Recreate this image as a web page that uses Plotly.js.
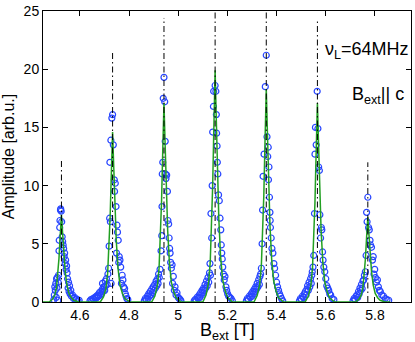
<!DOCTYPE html>
<html>
<head>
<meta charset="utf-8">
<script src="https://cdn.plot.ly/plotly-3.0.1.min.js"></script>
<style>
  html, body { margin: 0; padding: 0; background: #fff; }
  #chart { width: 415px; height: 342px; }
</style>
</head>
<body>
<div id="chart"></div>
<script>
// ── Data ──────────────────────────────────────────────────────────────────────
// stick positions (T) and heights of the dash-dot lines
const peakB    = [4.525, 4.733, 4.942, 5.150, 5.358, 5.566, 5.771];
const stickTop = [12.3, 21.4, 24.4, 25, 25, 24.2, 12.0];

// measured points per satellite: [B (T), amplitude]
const pk1 = [[4.494,0.2],[4.496,0.6],[4.498,1.3],[4.500,1.0],[4.502,1.6],[4.504,0.4],[4.505,2.0],[4.507,1.2],
  [4.508,2.1],[4.510,0.15],[4.512,1.7],[4.513,2.3],[4.515,4.4],[4.516,5.3],[4.518,6.4],[4.519,7.0],[4.521,7.9],
  [4.522,8.0],[4.524,7.8],[4.526,6.9],[4.528,5.6],[4.530,5.2],[4.532,4.9],[4.534,4.6],[4.536,3.9],[4.538,4.2],
  [4.540,3.3],[4.542,3.6],[4.544,2.8],[4.546,3.1],[4.548,2.5],[4.550,2.0],[4.552,1.2],[4.554,1.7],[4.556,0.9],
  [4.558,1.4],[4.560,0.7],[4.563,1.0],[4.566,0.5],[4.570,0.6],[4.574,0.3],[4.578,0.4],[4.582,0.2],[4.587,0.25],
  [4.592,0.1],[4.597,0.15]];
const pk2 = [[4.641,0.1],[4.645,0.2],[4.649,0.1],[4.653,0.3],[4.657,0.2],[4.661,0.4],[4.664,0.3],[4.667,0.5],
  [4.670,0.4],[4.673,0.6],[4.676,0.5],[4.679,0.8],[4.682,0.6],[4.685,0.9],[4.688,0.7],[4.691,1.1],[4.692,1.6],
  [4.695,0.9],[4.697,1.3],[4.699,1.3],[4.701,1.0],[4.703,1.8],[4.705,1.4],[4.708,2.0],[4.711,1.5],[4.714,2.4],
  [4.717,2.9],[4.719,4.8],[4.721,7.2],[4.722,12.0],[4.724,6.9],[4.726,13.9],[4.727,1.6],[4.730,15.8],[4.733,16.1],
  [4.736,13.5],[4.740,10.5],[4.741,9.5],[4.744,10.2],[4.747,8.2],[4.749,4.2],[4.751,6.6],[4.753,6.0],[4.756,5.3],
  [4.758,3.4],[4.760,3.9],[4.763,3.6],[4.766,3.0],[4.769,1.6],[4.772,2.3],[4.775,1.9],[4.778,1.3],[4.782,1.15],
  [4.785,0.7],[4.788,0.5],[4.791,0.3],[4.795,0.2]];
const pk3 = [[4.862,0.1],[4.866,0.3],[4.870,0.2],[4.874,0.5],[4.877,0.3],[4.880,0.7],[4.883,0.5],[4.886,0.9],
  [4.889,0.6],[4.892,1.1],[4.895,0.8],[4.898,1.3],[4.901,1.0],[4.904,1.5],[4.907,1.2],[4.910,1.8],[4.913,1.4],
  [4.916,2.0],[4.918,1.6],[4.920,2.4],[4.923,2.1],[4.926,2.8],[4.930,4.4],[4.933,5.7],[4.934,8.2],[4.935,11.0],
  [4.937,12.0],[4.939,17.5],[4.942,19.3],[4.945,17.2],[4.947,13.8],[4.948,11.0],[4.950,10.6],[4.953,10.9],
  [4.956,9.5],[4.958,7.0],[4.961,6.7],[4.963,5.5],[4.965,4.6],[4.967,4.2],[4.969,3.4],[4.972,2.9],[4.975,3.2],
  [4.977,1.6],[4.980,2.2],[4.984,1.0],[4.987,1.3],[4.991,0.6],[4.995,0.8],[5.000,0.4],[5.004,0.3],[5.008,0.2],
  [5.011,0.1]];
const pk4 = [[5.065,0.1],[5.069,0.2],[5.073,0.1],[5.077,0.4],[5.081,0.3],[5.085,0.6],[5.088,0.4],[5.091,0.8],
  [5.094,0.6],[5.097,1.0],[5.100,0.8],[5.103,1.2],[5.106,1.0],[5.109,1.5],[5.112,1.2],[5.115,1.8],[5.118,1.4],
  [5.121,2.1],[5.124,1.7],[5.127,2.5],[5.129,3.3],[5.131,2.3],[5.133,7.6],[5.136,5.5],[5.138,10.0],[5.140,14.6],
  [5.143,16.8],[5.144,18.1],[5.150,18.6],[5.153,18.1],[5.155,16.1],[5.156,14.5],[5.158,13.4],[5.159,12.0],
  [5.161,11.0],[5.164,9.2],[5.167,8.7],[5.170,7.2],[5.173,6.2],[5.175,4.9],[5.177,4.2],[5.179,3.7],[5.181,3.0],
  [5.184,2.4],[5.187,1.9],[5.190,2.2],[5.194,1.3],[5.197,1.0],[5.201,0.7],[5.205,0.5],[5.210,0.4],[5.215,0.3],
  [5.220,0.1]];
const pk5 = [[5.277,0.1],[5.281,0.3],[5.285,0.2],[5.289,0.5],[5.293,0.4],[5.297,0.7],[5.300,0.5],[5.303,0.9],
  [5.306,0.7],[5.309,1.1],[5.312,0.9],[5.315,1.3],[5.318,1.1],[5.321,1.6],[5.324,1.3],[5.327,1.9],[5.330,1.5],
  [5.332,2.2],[5.335,2.4],[5.338,2.9],[5.341,5.0],[5.343,7.9],[5.345,10.8],[5.349,12.7],[5.354,18.5],[5.358,21.2],
  [5.361,14.2],[5.364,12.5],[5.366,13.3],[5.367,10.5],[5.369,11.6],[5.371,9.0],[5.373,7.7],[5.374,7.0],
  [5.375,6.4],[5.378,5.5],[5.381,4.6],[5.385,4.2],[5.389,3.3],[5.392,2.9],[5.396,2.3],[5.400,1.7],[5.404,1.3],
  [5.408,1.0],[5.412,0.7],[5.416,0.5],[5.420,0.3],[5.425,0.1]];
const pk6 = [[5.493,0.1],[5.497,0.3],[5.501,0.2],[5.505,0.5],[5.509,0.4],[5.513,0.7],[5.517,0.9],[5.520,0.6],
  [5.523,1.1],[5.526,1.4],[5.529,1.0],[5.532,1.7],[5.535,1.3],[5.538,2.0],[5.541,1.6],[5.543,2.3],[5.545,2.6],
  [5.548,3.0],[5.551,4.0],[5.554,7.6],[5.556,12.7],[5.558,15.0],[5.561,13.5],[5.565,18.1],[5.568,14.9],
  [5.571,11.6],[5.574,11.3],[5.576,7.5],[5.579,5.5],[5.582,6.4],[5.584,6.2],[5.587,4.3],[5.589,3.6],[5.592,3.0],
  [5.596,2.6],[5.600,2.0],[5.604,1.4],[5.608,1.2],[5.612,1.0],[5.616,0.7],[5.620,0.6],[5.626,0.3],[5.633,0.2]];
const pk7 = [[5.711,0.1],[5.715,0.3],[5.719,0.2],[5.723,0.5],[5.727,0.6],[5.730,0.4],[5.733,0.9],[5.736,0.7],
  [5.739,1.2],[5.742,1.0],[5.745,1.5],[5.748,1.15],[5.751,1.8],[5.754,1.9],[5.757,2.3],[5.761,2.6],[5.764,4.0],
  [5.766,7.7],[5.768,6.9],[5.771,9.0],[5.774,6.4],[5.777,6.2],[5.780,5.3],[5.782,4.9],[5.786,4.7],[5.790,3.6],
  [5.793,3.9],[5.796,2.4],[5.799,2.8],[5.802,2.1],[5.806,1.7],[5.810,1.9],[5.814,1.3],[5.818,1.0],[5.822,0.9],
  [5.828,0.6],[5.835,0.5],[5.842,0.3],[5.849,0.2],[5.856,0.15]];

// fitted curve (green), one row per satellite
const fitB = [
  4.450,
  4.475, 4.488, 4.498, 4.505, 4.510, 4.515, 4.520, 4.525, 4.530, 4.535, 4.540, 4.547, 4.555, 4.565, 4.575, 4.595,
  4.683, 4.696, 4.706, 4.713, 4.718, 4.723, 4.728, 4.733, 4.738, 4.743, 4.748, 4.755, 4.763, 4.773, 4.783, 4.803,
  4.892, 4.905, 4.915, 4.922, 4.927, 4.932, 4.937, 4.942, 4.947, 4.952, 4.957, 4.964, 4.972, 4.982, 4.992, 5.012,
  5.100, 5.113, 5.123, 5.130, 5.135, 5.140, 5.145, 5.150, 5.155, 5.160, 5.165, 5.172, 5.180, 5.190, 5.200, 5.220,
  5.308, 5.321, 5.331, 5.338, 5.343, 5.348, 5.353, 5.358, 5.363, 5.368, 5.373, 5.380, 5.388, 5.398, 5.408, 5.428,
  5.516, 5.529, 5.539, 5.546, 5.551, 5.556, 5.561, 5.566, 5.571, 5.576, 5.581, 5.588, 5.596, 5.606, 5.616, 5.636,
  5.721, 5.734, 5.744, 5.751, 5.756, 5.761, 5.766, 5.771, 5.776, 5.781, 5.786, 5.793, 5.801, 5.811, 5.821, 5.841,
  5.862];
const fitA = [
  0,
  0, 0.23, 0.60, 1.28, 2.25, 3.75, 5.70, 7.5, 5.85, 4.05, 2.70, 1.50, 0.75, 0.38, 0.15, 0,
  0, 0.44, 1.17, 2.48, 4.38, 7.30, 11.1, 14.6, 11.4, 7.88, 5.26, 2.92, 1.46, 0.73, 0.29, 0,
  0, 0.51, 1.37, 2.91, 5.13, 8.55, 13.0, 17.1, 13.3, 9.23, 6.16, 3.42, 1.71, 0.86, 0.34, 0,
  0, 0.60, 1.59, 3.38, 5.97, 9.95, 15.1, 19.9, 15.5, 10.8, 7.16, 3.98, 1.99, 1.00, 0.40, 0,
  0, 0.55, 1.46, 3.11, 5.49, 9.15, 13.9, 18.3, 14.3, 9.88, 6.59, 3.66, 1.83, 0.92, 0.37, 0,
  0, 0.51, 1.37, 2.91, 5.13, 8.55, 13.0, 17.1, 13.3, 9.23, 6.16, 3.42, 1.71, 0.86, 0.34, 0,
  0, 0.22, 0.58, 1.24, 2.19, 3.65, 5.55, 7.3, 5.69, 3.94, 2.63, 1.46, 0.73, 0.37, 0.15, 0,
  0];

const xTicks = [4.6, 4.8, 5.0, 5.2, 5.4, 5.6, 5.8];
const xTickText = ['4.6', '4.8', '5', '5.2', '5.4', '5.6', '5.8'];

// ── Traces ────────────────────────────────────────────────────────────────────
const allPts = [pk1, pk2, pk3, pk4, pk5, pk6, pk7].flat();
const FONT = '"Liberation Sans", Arial, Helvetica, sans-serif';

const stickX = [], stickY = [];
peakB.forEach((b, i) => { stickX.push(b, b, null); stickY.push(0, stickTop[i], null); });

const traces = [
  {
    x: allPts.map(p => p[0]), y: allPts.map(p => p[1]),
    type: 'scatter', mode: 'markers',
    marker: { symbol: 'circle-open', size: 6, color: '#2846ff', line: { width: 1.2, color: '#2846ff' } },
    hoverinfo: 'skip',
  },
  {
    x: fitB, y: fitA,
    type: 'scatter', mode: 'lines',
    line: { color: '#22a022', width: 1.5 },
    hoverinfo: 'skip',
  },
  {
    x: stickX, y: stickY,
    type: 'scatter', mode: 'lines',
    line: { color: '#000', width: 1, dash: '6px,3px,1.5px,3px' },
    connectgaps: false, hoverinfo: 'skip',
  },
];

const axisBase = {
  showline: true, mirror: 'ticks', linecolor: '#000', linewidth: 1,
  ticks: 'inside', ticklen: 5, tickcolor: '#000', tickwidth: 1,
  showgrid: false, zeroline: false,
  tickfont: { family: FONT, size: 14, color: '#000' },
};

const note = (text, x, y, anchorX, anchorY) => ({
  xref: 'paper', yref: 'paper', x, y, xanchor: anchorX, yanchor: anchorY,
  text, showarrow: false, borderpad: 0,
  font: { family: FONT, size: 18, color: '#000' },
});

Plotly.newPlot('chart', traces, {
  width: 415, height: 342,
  margin: { l: 43, r: 4, t: 11, b: 40 },
  paper_bgcolor: '#fff', plot_bgcolor: '#fff',
  showlegend: false,
  font: { family: FONT, color: '#000' },
  xaxis: {
    ...axisBase,
    range: [4.45, 5.9466],
    tickvals: xTicks, ticktext: xTickText,
  },
  yaxis: {
    ...axisBase,
    range: [0, 25], tickvals: [0, 5, 10, 15, 20, 25],
    title: { text: 'Amplitude [arb.u.]', font: { family: FONT, size: 16 }, standoff: 6 },
  },
  annotations: [
    note('B<sub>ext</sub> [T]', 0.5, -0.06, 'center', 'top'),
    note('ν<sub>L</sub>=64MHz', 0.997, 0.865, 'right', 'middle'),
    note('B<sub>ext</sub>|| c', 0.985, 0.71, 'right', 'middle'),
  ],
}, { displayModeBar: false, staticPlot: true });
</script>
</body>
</html>
